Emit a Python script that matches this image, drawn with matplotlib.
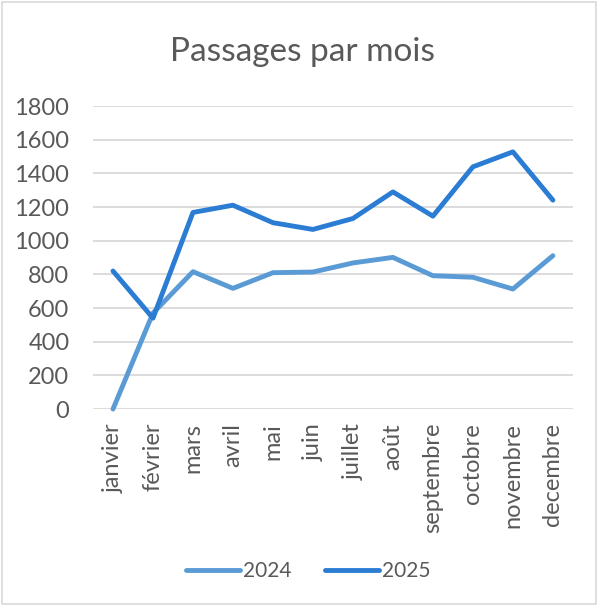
import matplotlib
matplotlib.use('Agg')
from matplotlib import pyplot as plt
from matplotlib.patches import Rectangle
import numpy as np

plt.rcParams['font.family'] = ['Lato', 'DejaVu Sans']

mois = ['janvier', 'février', 'mars', 'avril', 'mai', 'juin', 'juillet',
        'août', 'septembre', 'octobre', 'novembre', 'decembre']
passages_2024 = [0, 570, 816, 717, 810, 814, 868, 901, 792, 783, 713, 911]
passages_2025 = [820, 540, 1168, 1211, 1107, 1067, 1132, 1290, 1146, 1439, 1528, 1241]

gris = '#595959'

fig = plt.figure(figsize=(5.98, 6.06), dpi=100)
ax = fig.add_axes([0.1555, 0.325, 0.8025, 0.5])

x = np.arange(len(mois))
ax.plot(x, passages_2024, color='#5B9BD5', lw=3.5, solid_capstyle='round',
        solid_joinstyle='round', label='2024', clip_on=False)
ax.plot(x, passages_2025, color='#2B7CD3', lw=3.5, solid_capstyle='round',
        solid_joinstyle='round', label='2025', clip_on=False)

ax.set_xlim(-0.5, len(mois) - 0.5)
ax.set_ylim(0, 1800)
ax.set_yticks(range(0, 1801, 200))
ax.set_xticks(x)
ax.set_xticklabels(mois, rotation=90)
ax.tick_params(length=0, labelsize=17, colors=gris)
ax.tick_params(axis='x', pad=10)
ax.tick_params(axis='y', pad=17)
ax.grid(axis='y', color='#D9D9D9', lw=1.3)
ax.set_axisbelow(True)
for s in ax.spines.values():
    s.set_visible(False)

fig.text(0.505, 0.914, 'Passages par mois', ha='center', va='center',
         fontsize=24, color=gris)

fig.legend(loc='center', bbox_to_anchor=(0.515, 0.058), ncol=2, frameon=False,
           fontsize=15, labelcolor=gris, handlelength=2.6, handletextpad=0.15,
           columnspacing=1.6)

fig.patches.append(Rectangle((0.004, 0.004), 0.992, 0.992, transform=fig.transFigure,
                             fill=False, edgecolor='#D9D9D9', lw=1.2))

fig.savefig('out.png', dpi=100)
